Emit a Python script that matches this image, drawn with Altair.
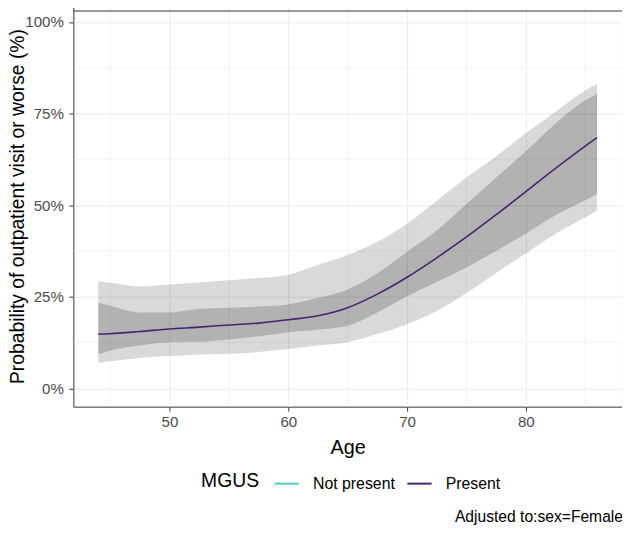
import altair as alt
import pandas as pd

# ---- data ----
age = [44, 45, 47.5, 50, 52.5, 55, 57.5, 60, 62.5, 65, 67.5, 70, 72.5, 75, 77.5, 80, 82.5, 85, 86]
fit = [14.8, 14.9, 15.5, 16.2, 16.7, 17.3, 17.8, 18.7, 19.8, 22.0, 25.7, 30.3, 35.6, 41.3, 47.4, 53.7, 60.0, 66.1, 68.4]
inner_hi = [23.4, 22.5, 20.7, 20.7, 21.7, 22.0, 22.3, 22.9, 24.7, 27.0, 31.4, 37.3, 43.1, 50.3, 57.5, 64.7, 72.3, 78.6, 80.4]
inner_lo = [9.3, 10.3, 11.7, 12.6, 12.7, 13.3, 14.2, 15.3, 16.0, 17.1, 20.7, 25.1, 29.0, 33.0, 37.5, 42.2, 47.2, 51.3, 53.0]
outer_hi = [29.2, 28.8, 27.8, 28.3, 28.9, 29.5, 30.1, 31.0, 33.7, 36.4, 40.0, 44.9, 51.2, 57.5, 63.3, 69.6, 75.5, 81.3, 83.1]
outer_lo = [6.9, 7.4, 8.3, 8.8, 9.2, 9.4, 9.9, 10.7, 11.7, 12.6, 14.8, 17.5, 21.1, 26.0, 31.5, 36.8, 42.2, 46.6, 48.5]

groups = ["Not present", "Present"]
group_colors = ["#4ecdc4", "#44256f"]

x_ticks = [50, 60, 70, 80]
x_minor = [45, 55, 65, 75, 85]
y_ticks = [0, 0.25, 0.5, 0.75, 1.0]
y_minor = [0.125, 0.375, 0.625, 0.875]

caption = "Adjusted to:sex=Female"

df = pd.DataFrame({
    "age": age,
    "fit": [v / 100 for v in fit],
    "ilo": [v / 100 for v in inner_lo],
    "ihi": [v / 100 for v in inner_hi],
    "olo": [v / 100 for v in outer_lo],
    "ohi": [v / 100 for v in outer_hi],
    "MGUS": ["Present"] * len(age),
})

W, H = 554, 407
FONT = "Liberation Sans"

xscale = alt.Scale(domain=[41.9, 88.1], nice=False, zero=False)
yscale = alt.Scale(domain=[-0.05, 1.05], nice=False, zero=False)

xaxis = alt.Axis(values=x_ticks, title="Age", grid=True,
                 titleY=47, titleBaseline="alphabetic")
yaxis = alt.Axis(values=y_ticks, format=".0%",
                 title="Probability of outpatient visit or worse (%)", grid=True,
                 titleX=-56, titleY=H / 2 + 1, titleBaseline="middle", titleFontSize=19.5)

minor_x = alt.Chart(pd.DataFrame({"v": x_minor})).mark_rule(
    color="#ececec", strokeWidth=0.6
).encode(x=alt.X("v:Q", scale=xscale, axis=xaxis))

minor_y = alt.Chart(pd.DataFrame({"v": y_minor})).mark_rule(
    color="#ececec", strokeWidth=0.6
).encode(y=alt.Y("v:Q", scale=yscale, axis=yaxis))

base = alt.Chart(df)

outer = base.mark_area(color="black", opacity=0.15, interpolate="monotone").encode(
    x=alt.X("age:Q", scale=xscale, axis=xaxis),
    y=alt.Y("olo:Q", scale=yscale, axis=yaxis),
    y2="ohi:Q",
)
inner = base.mark_area(color="black", opacity=0.18, interpolate="monotone").encode(
    x=alt.X("age:Q", scale=xscale, axis=xaxis),
    y=alt.Y("ilo:Q", scale=yscale, axis=yaxis),
    y2="ihi:Q",
)
line = base.mark_line(strokeWidth=1.6, interpolate="monotone").encode(
    x=alt.X("age:Q", scale=xscale, axis=xaxis),
    y=alt.Y("fit:Q", scale=yscale, axis=yaxis),
    color=alt.Color(
        "MGUS:N",
        scale=alt.Scale(domain=groups, range=group_colors),
        legend=alt.Legend(
            orient="none",
            legendX=129,
            legendY=471,
            direction="horizontal",
            titleOrient="left",
            title="MGUS",
            symbolType="stroke",
            symbolSize=600,
            symbolStrokeWidth=2,
            labelOffset=13,
            columnPadding=8,
            titlePadding=14,
        ),
    ),
)

# top edge of the panel border (the panel top sits above the page margin)
top_border = alt.Chart(pd.DataFrame({"t": [0]})).mark_rule(
    color="#333333", strokeWidth=1
).encode(x=alt.value(0), x2=alt.value(W), y=alt.value(7.5))

cap = alt.Chart(pd.DataFrame({"t": [caption]})).mark_text(
    align="right", baseline="alphabetic", fontSize=15.8, font=FONT, color="black"
).encode(text="t:N", x=alt.value(555), y=alt.value(523))

chart = alt.layer(minor_x, minor_y, outer, inner, line, top_border, cap).properties(
    width=W,
    height=H,
    autosize=alt.AutoSizeParams(type="none"),
    padding={"left": 66, "top": -7, "right": 0, "bottom": 118},
).configure_view(
    stroke="#333333", strokeWidth=1
).configure_axis(
    domain=False,
    gridColor="#ebebeb",
    gridWidth=1,
    tickColor="#333333",
    tickSize=4.5,
    labelFont=FONT,
    labelFontSize=15.3,
    labelColor="#4d4d4d",
    labelPadding=4,
    titleFont=FONT,
    titleFontSize=20,
    titleFontWeight="normal",
    titleColor="black",
).configure_axisY(
    labelPadding=5.5,
).configure_legend(
    titleFont=FONT,
    titleFontSize=19.5,
    titleFontWeight="normal",
    titleColor="black",
    labelFont=FONT,
    labelFontSize=16,
    labelColor="black",
)

chart.save("out.html", embed_options={"renderer": "svg", "actions": False})
